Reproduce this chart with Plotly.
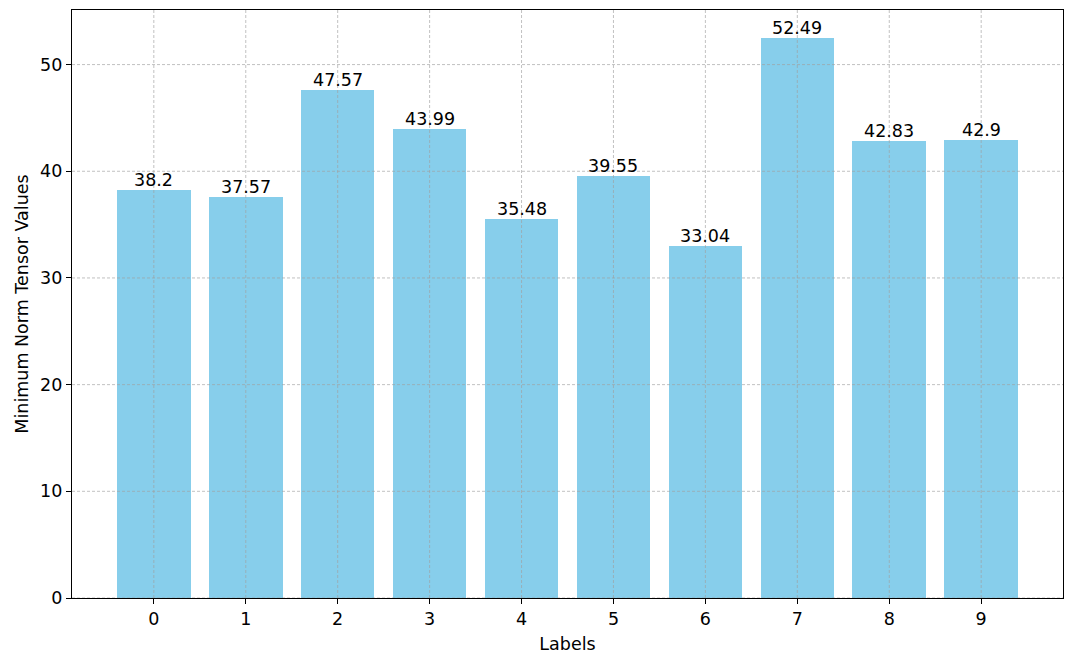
import plotly.graph_objects as go

labels = [0, 1, 2, 3, 4, 5, 6, 7, 8, 9]
values = [38.2, 37.57, 47.57, 43.99, 35.48, 39.55, 33.04, 52.49, 42.83, 42.9]
value_text = ["38.2", "37.57", "47.57", "43.99", "35.48", "39.55", "33.04", "52.49", "42.83", "42.9"]
y_ticks = [0, 10, 20, 30, 40, 50]

FONT = "DejaVu Sans"
FS = 17.5
grid_color = "rgba(160,160,160,0.65)"

fig = go.Figure()
fig.add_trace(go.Bar(
    x=labels, y=values, width=0.8,
    marker=dict(color="#87CEEB", line=dict(width=0)),
    hoverinfo="x+y",
))

annotations = [
    dict(x=l, y=v, xref="x", yref="y", text=t, showarrow=False,
         xanchor="center", yanchor="bottom", yshift=-2,
         font=dict(family=FONT, size=FS, color="black"))
    for l, v, t in zip(labels, values, value_text)
]

ymax = max(values) * 1.05
xmin, xmax = -0.4 - 0.49, 9.4 + 0.49

shapes = []
for t in y_ticks:
    shapes.append(dict(type="line", xref="paper", yref="y", x0=0, x1=1, y0=t, y1=t,
                       line=dict(color=grid_color, width=1, dash="3px,2px"), layer="above"))
for t in labels:
    shapes.append(dict(type="line", xref="x", yref="paper", x0=t, x1=t, y0=0, y1=1,
                       line=dict(color=grid_color, width=1, dash="3px,2px"), layer="above"))

fig.update_layout(
    width=1080, height=659,
    margin=dict(l=72, r=17, t=9, b=60),
    plot_bgcolor="white", paper_bgcolor="white",
    font=dict(family=FONT, size=FS, color="black"),
    showlegend=False, bargap=0,
    shapes=shapes, annotations=annotations,
)
fig.update_xaxes(
    range=[xmin, xmax], tickvals=labels, ticktext=[str(l) for l in labels],
    showgrid=False, zeroline=False,
    showline=True, linecolor="black", linewidth=1.2, mirror=True,
    ticks="outside", ticklen=5, tickcolor="black", tickwidth=1.2,
    title=dict(text="Labels", font=dict(family=FONT, size=FS), standoff=9),
)
fig.update_yaxes(
    range=[0, ymax], tickvals=y_ticks,
    showgrid=False, zeroline=False,
    showline=True, linecolor="black", linewidth=1.2, mirror=True,
    ticks="outside", ticklen=5, tickcolor="black", tickwidth=1.2,
    title=dict(text="Minimum Norm Tensor Values", font=dict(family=FONT, size=FS), standoff=6),
)

fig.write_html("out.html", config={"displayModeBar": False},
               post_script="document.body.style.margin='0';document.body.style.overflow='hidden';")
